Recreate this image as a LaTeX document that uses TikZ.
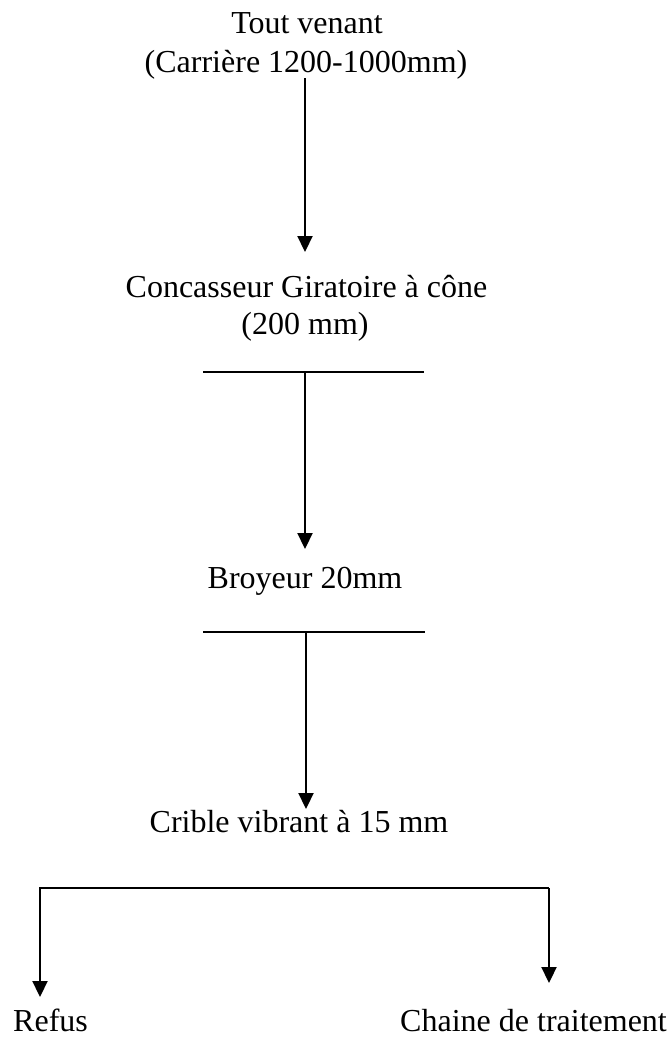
\documentclass[tikz,border=0pt]{standalone}
\usepackage{fontspec}
\setmainfont{Liberation Serif}
\usetikzlibrary{arrows.meta}
\begin{document}
\begin{tikzpicture}[x=1pt,y=-1pt,
  label/.style={inner sep=0pt,anchor=base,font=\fontsize{32}{38}\selectfont},
  flow/.style={line width=2.2pt,-{Triangle[length=16pt,width=15pt]}},
  bar/.style={line width=2.2pt}]
\useasboundingbox (0,0) rectangle (672,1039);
% texts
\node[label] (tv1) at (307,33) {Tout venant};
\node[label] (tv2) at (306,72) {(Carrière 1200-1000mm)};
\node[label] (cc1) at (306.5,297) {Concasseur Giratoire à cône};
\node[label] (cc2) at (305,334) {(200 mm)};
\node[label] (br) at (305,588) {Broyeur 20mm};
\node[label] (cr) at (299,832) {Crible vibrant à 15 mm};
\node[label,anchor=base west] (rf) at (13,1031) {Refus};
\node[label,anchor=base east] (ch) at (667,1031) {Chaine de traitement};
% coordinates
\coordinate (a1s) at (305,78);
\coordinate (a1e) at (305,252);
\coordinate (b1l) at (203,372);
\coordinate (b1r) at (424,372);
\coordinate (b1m) at (305,372);
\coordinate (a2e) at (305,549);
\coordinate (b2l) at (203,632);
\coordinate (b2r) at (425,632);
\coordinate (b2m) at (306,632);
\coordinate (a3e) at (306,809);
\coordinate (hl) at (40,888);
\coordinate (hr) at (549,888);
\coordinate (rfe) at (40,997);
\coordinate (che) at (549,983);
% connectors
\draw[flow] (a1s) -- (a1e);
\draw[bar] (b1l) -- (b1r);
\draw[flow] (b1m) -- (a2e);
\draw[bar] (b2l) -- (b2r);
\draw[flow] (b2m) -- (a3e);
\draw[flow] (hr) -- (hl) -- (rfe);
\draw[flow] (hr) -- (che);
\end{tikzpicture}
\end{document}
